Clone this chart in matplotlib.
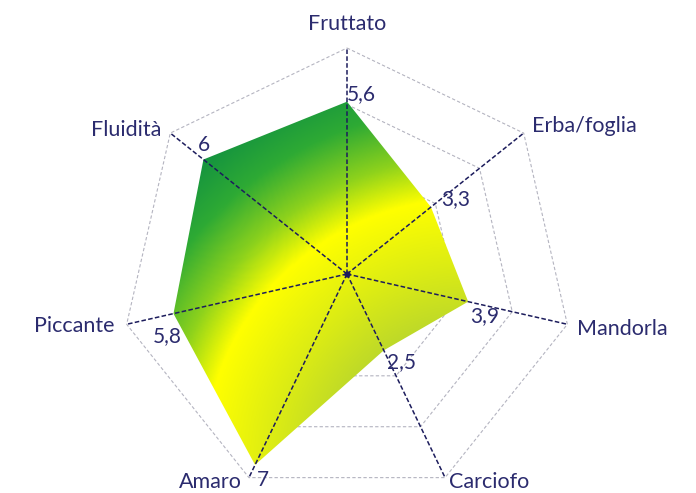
import numpy as np
import matplotlib.pyplot as plt
from matplotlib.patches import Polygon
from matplotlib.colors import LinearSegmentedColormap

# Profilo sensoriale
categorie = ['Fruttato', 'Erba/foglia', 'Mandorla', 'Carciofo', 'Amaro', 'Piccante', 'Fluidità']
valori = [5.6, 3.3, 3.9, 2.5, 7, 5.8, 6]
etichette = ['5,6', '3,3', '3,9', '2,5', '7', '5,8', '6']
r_min, r_max = -0.5, 7.5
anelli = [1.5, 3.5, 5.5, 7.5]

blu = '#2b2b6e'
n = len(categorie)
ang = np.pi / 2 - 2 * np.pi * np.arange(n) / n


def xy(v):
    r = (np.asarray(v, dtype=float) - r_min) / (r_max - r_min)
    return r * np.cos(ang), r * np.sin(ang)


W, H = 696, 493
cx, cy, R = 347, 274, 226
fig = plt.figure(figsize=(W / 100, H / 100), dpi=100)
ax = fig.add_axes([0, 0, 1, 1])
x0, x1 = -cx / R, (W - cx) / R
y0, y1 = -(H - cy) / R, cy / R
ax.set_xlim(x0, x1)
ax.set_ylim(y0, y1)
ax.axis('off')

# anelli della griglia
for a in anelli:
    gx, gy = xy([a] * n)
    ax.plot(np.append(gx, gx[0]), np.append(gy, gy[0]), color='#b4b4c0',
            lw=0.8, dashes=(3, 2), zorder=1)

# area con sfumatura verde/giallo
px, py = xy(valori)
poly = Polygon(np.column_stack([px, py]), closed=True, facecolor='none',
               edgecolor='none', zorder=2)
ax.add_patch(poly)

gx, gy = np.meshgrid(np.linspace(x0, x1, 500), np.linspace(y0, y1, 360))
d = np.hypot(gx - 0.549, gy + 0.850)
stops = [(0.62, '#bcd82a'), (0.885, '#dcec14'), (1.186, '#ffff00'),
         (1.372, '#8ed21c'), (1.593, '#2eaa34'), (1.814, '#139240')]
lo, hi = stops[0][0], stops[-1][0]
cmap = LinearSegmentedColormap.from_list(
    'olio', [((s - lo) / (hi - lo), c) for s, c in stops])
img = ax.imshow(np.clip((d - lo) / (hi - lo), 0, 1), cmap=cmap, vmin=0, vmax=1,
                extent=(x0, x1, y0, y1), origin='lower', interpolation='bilinear',
                aspect='auto', zorder=2)
img.set_clip_path(poly)

# raggi
ox, oy = xy([r_max] * n)
for i in range(n):
    ax.plot([0, ox[i]], [0, oy[i]], color='#1c1c5c', lw=1.1, dashes=(3, 1.5),
            zorder=3)
ax.plot(0, 0, 'o', color='#1c1c5c', ms=3.5, zorder=4)

plt.rcParams['font.family'] = ['Lato', 'DejaVu Sans']

# etichette dei valori (offset in pixel)
off_val = [(0, 2, 'left'), (10, 2, 'left'), (2, -20, 'left'), (3, -18, 'left'),
           (2, -21, 'left'), (-6, -28, 'center'), (1, 9, 'center')]
for i in range(n):
    dx, dy, ha = off_val[i]
    ax.annotate(etichette[i], (px[i], py[i]), xytext=(dx, dy),
                textcoords='offset pixels', ha=ha, va='baseline',
                fontsize=15, color=blu, zorder=5)

# nomi delle categorie
off_cat = [(0, 18, 'center'), (8, 1, 'left'), (10, -11, 'left'),
           (4, -10, 'left'), (-7, -10, 'right'), (-12, -8, 'right'),
           (-9, -3, 'right')]
for i in range(n):
    dx, dy, ha = off_cat[i]
    ax.annotate(categorie[i], (ox[i], oy[i]), xytext=(dx, dy),
                textcoords='offset pixels', ha=ha, va='baseline',
                fontsize=15.5, color=blu, zorder=5)

fig.savefig('out.png', dpi=100)
